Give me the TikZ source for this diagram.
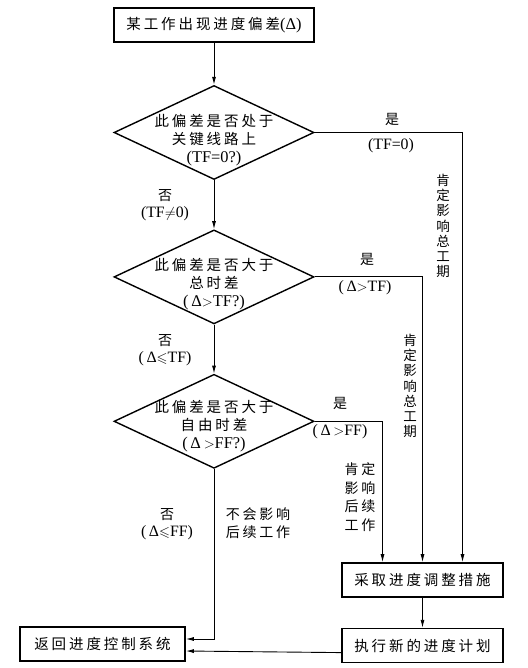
\documentclass[tikz,border=0pt]{standalone}
\usepackage{amsmath,amssymb}
\usepackage{fontspec}
\setmainfont{Liberation Serif}[Scale=1.13]
\newfontfamily\zh{Noto Sans CJK SC}[LetterSpace=20]
\usetikzlibrary{shapes.geometric,arrows.meta,positioning,calc}

\begin{document}
\begin{tikzpicture}[
    x=1pt, y=-1pt,
    box/.style={rectangle, draw, line width=1.6pt, minimum height=34pt, font=\fontsize{14.5}{18}\selectfont},
    decide/.style={diamond, draw, line width=1.4pt, minimum width=200pt, minimum height=94pt, inner sep=0pt},
    dtext/.style={align=center, font=\fontsize{14.5}{18}\selectfont, inner sep=0pt},
    lbl/.style={align=center, font=\fontsize{14}{16.5}\selectfont, inner sep=0pt},
    vtext/.style={align=center, font=\zh\fontsize{13.5}{15.2}\selectfont, inner sep=0pt},
    gtext/.style={align=center, font=\zh\fontsize{14}{18.5}\selectfont, inner sep=0pt},
    arrow/.style={-{Latex[length=8pt,width=4pt]}, line width=0.9pt}
]
\useasboundingbox (0,0) rectangle (527,668);

% main column
\node[box, minimum width=200pt] (start) at (214,25) {{\zh 某工作出现进度偏差}(Δ)};
\node[decide, below=42pt of start] (d1) {};
\node[dtext] (d1t) at ([yshift=-8pt]d1.center) {{\zh 此偏差是否处于}\\{\zh 关键线路上}\\(TF=0?)};
\node[decide, below=49pt of d1] (d2) {};
\node[dtext] (d2t) at ([yshift=-7pt]d2.center) {{\zh 此偏差是否大于}\\{\zh 总时差}\\(\,Δ$>$TF?)};
\node[decide, below=49pt of d2] (d3) {};
\node[dtext] (d3t) at ([yshift=-5pt]d3.center) {{\zh 此偏差是否大于}\\{\zh 自由时差}\\(\,Δ\,$>$FF?)};

% result boxes
\node[box, minimum width=161pt] (act) at (422.5,580) {\zh 采取进度调整措施};
\node[box, minimum width=161pt, below=30pt of act] (exec) {\zh 执行新的进度计划};
\node[box, minimum width=165pt] (back) at (102.5,644) {\zh 返回进度控制系统};

\coordinate (in1) at ($(act.north)+(40,0)$);
\coordinate (in3) at ($(act.north)+(-40,0)$);

% labels
\node[lbl] (y1) at (392,119) {\zh 是};
\node[lbl] (y1c) at (391,146) {(TF=0)};
\node[vtext] (v1) at (443,226) {肯\\定\\影\\响\\总\\工\\期};
\node[lbl] (n1) at (165,205) {{\zh 否}\\(TF$\neq$0)};
\node[lbl] (y2) at (367,259) {\zh 是};
\node[lbl] (y2c) at (365,288) {(\,Δ$>$TF)};
\node[vtext] (v2) at (410,386) {肯\\定\\影\\响\\总\\工\\期};
\node[lbl] (n2) at (165,350) {{\zh 否}\\(\,Δ$\leqslant$TF)};
\node[lbl] (y3) at (340,403) {\zh 是};
\node[lbl] (y3c) at (340,432) {(\,Δ\,$>$FF)};
\node[gtext] (v3) at (360,497) {肯定\\影响\\后续\\工作};
\node[gtext] (keep) at (258,523) {不会影响\\后续工作};
\node[lbl] (n3) at (167,524) {{\zh 否}\\(\,Δ$\leqslant$FF)};

% connectors
\draw[arrow] (start) -- (d1);
\draw[arrow] (d1) -- (d2);
\draw[arrow] (d2) -- (d3);
\draw[arrow] (d1.east) -| (in1);
\draw[arrow] (d2.east) -| (act.north);
\draw[arrow] (d3.east) -| (in3);
\draw[arrow] (act) -- (exec);
\draw[arrow] (d3.south) |- ([yshift=5pt]back.east);
\draw[arrow] ([yshift=-7pt]exec.west) -- ([yshift=-7pt]back.east);
\end{tikzpicture}
\end{document}
